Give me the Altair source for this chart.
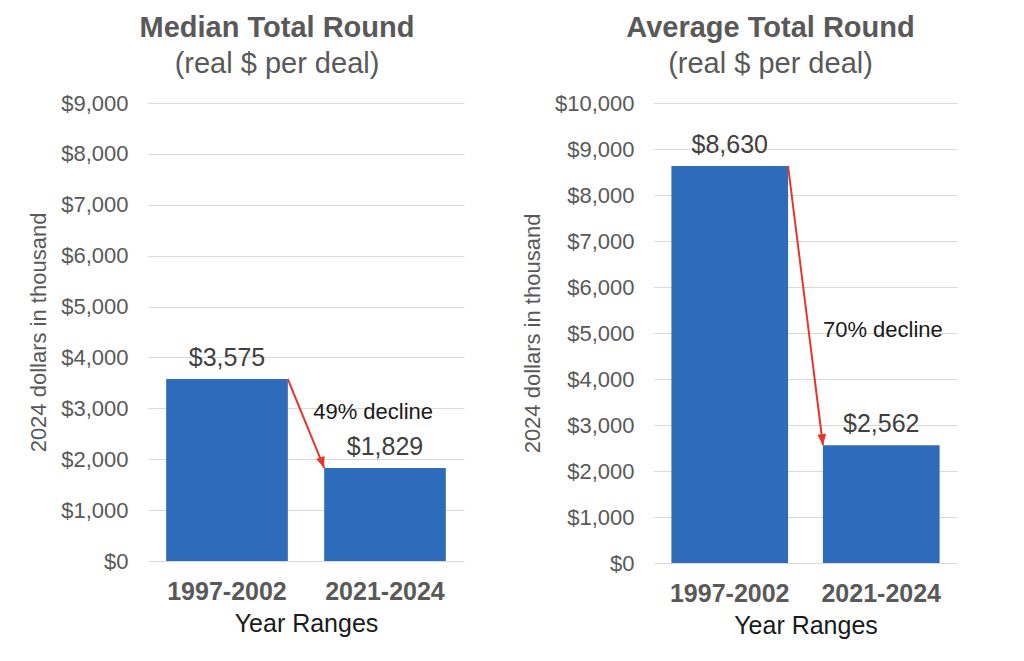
import altair as alt
import pandas as pd

categories = ["1997-2002", "2021-2024"]
median_values = [3575, 1829]
average_values = [8630, 2562]
median_ticks = list(range(0, 9001, 1000))
average_ticks = list(range(0, 10001, 1000))
median_decline = "49% decline"
average_decline = "70% decline"

FONT = "Liberation Sans"
BAR = "#2E6BBA"
RED = "#E8352B"
GRAY = "#595959"
ARROW_PATH = "M0,0L-0.4,-1L0.4,-1Z"


def panel(values, ticks, title, decline, decline_y, decline_dx, width, height,
          title_dx, head_angle):
    df = pd.DataFrame({"cat": categories, "value": values})
    adf = pd.DataFrame({"c1": [categories[0]], "c2": [categories[1]],
                        "v1": [values[0]], "v2": [values[1]]})
    tdf = pd.DataFrame({"c2": [categories[1]], "y": [decline_y], "label": [decline]})

    xt = "Year Ranges"
    yt = "2024 dollars in thousand"
    xscale = alt.Scale(domain=categories, paddingInner=0.23, paddingOuter=0.115)
    yscale = alt.Scale(domain=[ticks[0], ticks[-1]], nice=False)
    xaxis = alt.Axis(labelAngle=0, labelFontSize=25, labelFontWeight="bold",
                     labelColor=GRAY, labelPadding=18, ticks=False, domain=False,
                     grid=False, titleFontSize=25, titleFontWeight="normal",
                     titleColor="#1a1a1a", titlePadding=7)
    yaxis = alt.Axis(values=ticks, format="$,.0f", labelFontSize=22,
                     labelColor=GRAY, labelPadding=20, ticks=False, domain=False,
                     grid=True, gridColor="#d9d9d9", gridWidth=1,
                     titleFontSize=22, titleFontWeight="normal",
                     titleColor=GRAY, titlePadding=10)

    bars = alt.Chart(df).mark_bar(color=BAR).encode(
        x=alt.X("cat:N", scale=xscale, axis=xaxis, title=xt),
        y=alt.Y("value:Q", scale=yscale, axis=yaxis, title=yt),
    )
    labels = alt.Chart(df).mark_text(dy=-13, baseline="alphabetic", fontSize=25,
                                     color="#404040").encode(
        x=alt.X("cat:N", title=xt),
        y=alt.Y("value:Q", title=yt),
        text=alt.Text("value:Q", format="$,.0f"),
    )
    line = alt.Chart(adf).mark_rule(color=RED, strokeWidth=2).encode(
        x=alt.X("c1:N", bandPosition=1, title=xt),
        x2=alt.X2("c2:N", bandPosition=0),
        y=alt.Y("v1:Q", title=yt),
        y2="v2:Q",
    )
    head = alt.Chart(adf).mark_point(shape=ARROW_PATH, filled=True, size=484,
                                     angle=head_angle, color=RED, opacity=1).encode(
        x=alt.X("c2:N", bandPosition=0, title=xt),
        y=alt.Y("v2:Q", title=yt),
    )
    note = alt.Chart(tdf).mark_text(align="left", baseline="alphabetic", fontSize=22,
                                    color="#1a1a1a", dx=decline_dx).encode(
        x=alt.X("c2:N", bandPosition=0, title=xt),
        y=alt.Y("y:Q", title=yt),
        text="label:N",
    )
    return alt.layer(bars, labels, line, head, note).properties(
        width=width, height=height,
        title=alt.Title(text=title, subtitle="(real $ per deal)", fontSize=29,
                        fontWeight="bold", color=GRAY, subtitleFontSize=29,
                        subtitleColor=GRAY, subtitlePadding=7, offset=13,
                        dx=title_dx, anchor="middle"),
    )


left = panel(median_values, median_ticks, "Median Total Round", median_decline,
             2790, -11, 316, 458, -29, 340)
right = panel(average_values, average_ticks, "Average Total Round", average_decline,
              4913, 0, 303, 460, -35, 354)

chart = alt.hconcat(left, right, spacing=57).properties(
    padding={"left": 19, "top": 6, "right": 5, "bottom": 5}
).configure(font=FONT).configure_view(stroke=None)

chart.save("out.html", embed_options={"renderer": "svg", "actions": False})
